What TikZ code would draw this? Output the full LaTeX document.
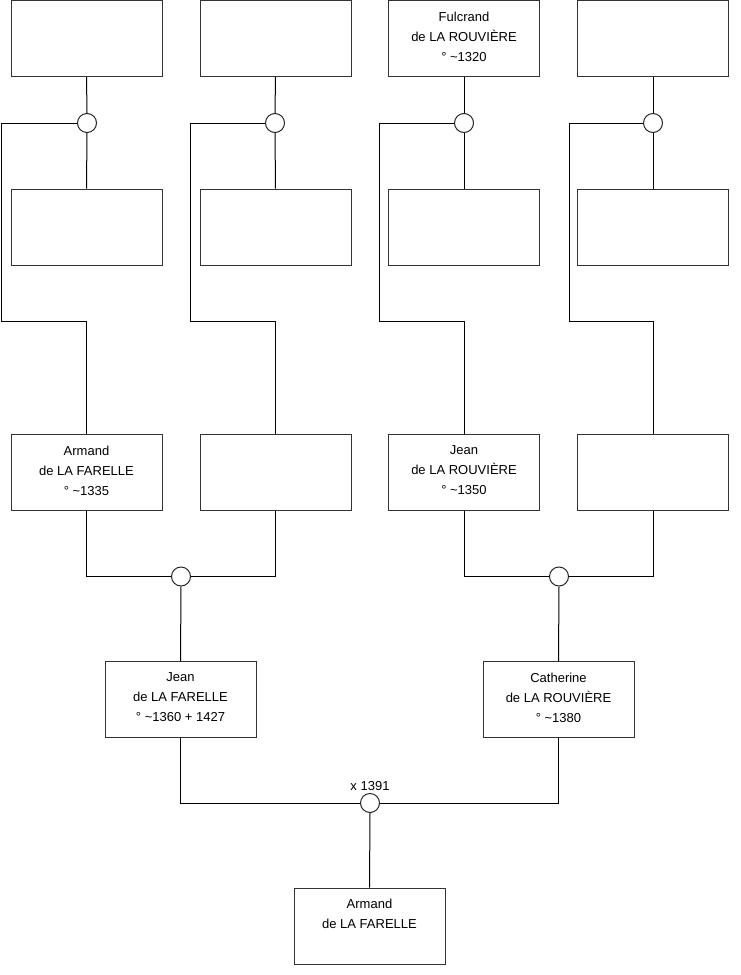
\documentclass[tikz,border=0pt]{standalone}
\usepackage{fontspec}
\setmainfont{Liberation Sans}
\begin{document}
\begin{tikzpicture}[x=1pt,y=-1pt,
  pbox/.style={draw=black!80, line width=1pt, rectangle, minimum width=151pt, minimum height=76pt, inner sep=0pt, fill=white},
  lbl/.style={anchor=north, align=center, inner sep=0pt, yshift=-11.5pt, font=\fontsize{13}{20}\selectfont},
  ring/.style={draw=black!85, line width=1pt, circle, minimum size=19pt, inner sep=0pt, fill=white},
  conn/.style={draw=black, line width=1pt},
  note/.style={inner sep=0pt, font=\fontsize{13}{15}\selectfont}]
\useasboundingbox (0,0) rectangle (740,975);
\fill[white] (0,0) rectangle (740,975);
% row 1
\node[pbox] (a1) at (86.5,38.5) {};
\node[pbox] (a2) at (275.5,38.5) {};
\node[pbox, label={[lbl]north:{Fulcrand\\de LA ROUVIÈRE\\° \textasciitilde1320}}] (a3) at (464,38.5) {};
\node[pbox] (a4) at (653,38.5) {};
% circles row 1
\node[ring] (c1) at (87,123) {};
\node[ring] (c2) at (275,123) {};
\node[ring] (c3) at (464,123) {};
\node[ring] (c4) at (653,123) {};
% row 2
\node[pbox] (b1) at (86.5,227) {};
\node[pbox] (b2) at (275.5,227) {};
\node[pbox] (b3) at (464,227) {};
\node[pbox] (b4) at (653,227) {};
% row 3
\node[pbox, label={[lbl]north:{Armand\\de LA FARELLE\\° \textasciitilde1335}}] (d1) at (86.5,472.5) {};
\node[pbox] (d2) at (275.5,472.5) {};
\node[pbox, label={[lbl]north:{Jean\\de LA ROUVIÈRE\\° \textasciitilde1350}}] (d3) at (464,472.5) {};
\node[pbox] (d4) at (653,472.5) {};
% corners
\coordinate (k1) at (1.5,321);
\coordinate (k2) at (190,321);
\coordinate (k3) at (379,321);
\coordinate (k4) at (569,321);
% circles row 3
\node[ring] (m1) at (181,576.5) {};
\node[ring] (m2) at (559,576.5) {};
% row 4
\node[pbox, label={[lbl]north:{Jean\\de LA FARELLE\\° \textasciitilde1360 + 1427}}] (e1) at (180.5,699.5) {};
\node[pbox, label={[lbl]north:{Catherine\\de LA ROUVIÈRE\\° \textasciitilde1380}}] (e2) at (558.5,699.5) {};
% marriage
\node[ring] (m3) at (370,803) {};
\node[note] (x) at (370,786) {x 1391};
% bottom
\node[pbox, label={[lbl]north:{Armand\\de LA FARELLE}}] (f) at (369.5,926) {};
% connectors top
\foreach \i in {1,2,3,4} {
  \draw[conn] (a\i.south) -- (c\i.north);
  \draw[conn] (c\i.south) -- (b\i.north);
  \draw[conn] (c\i.west) -| (k\i) -| (d\i.north);
}
\draw[conn] (d1.south) |- (m1.west);
\draw[conn] (d2.south) |- (m1.east);
\draw[conn] (d3.south) |- (m2.west);
\draw[conn] (d4.south) |- (m2.east);
\draw[conn] (m1.south) -- (e1.north);
\draw[conn] (m2.south) -- (e2.north);
\draw[conn] (e1.south) |- (m3.west);
\draw[conn] (e2.south) |- (m3.east);
\draw[conn] (m3.south) -- (f.north);
\end{tikzpicture}
\end{document}
